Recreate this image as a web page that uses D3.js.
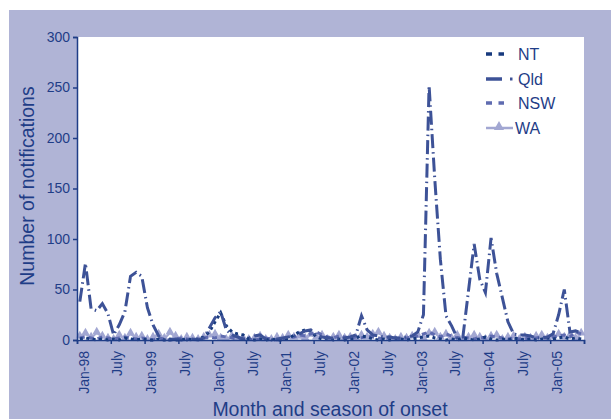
<!DOCTYPE html>
<html>
<head>
<meta charset="utf-8">
<script src="https://cdn.jsdelivr.net/npm/d3@7"></script>
<style>
  body { margin: 0; background: #fff; }
  text { font-family: "Liberation Sans", Arial, sans-serif; }
</style>
</head>
<body>
<script>
// monthly notifications, Jan-98 .. Jun-05 (90 months)
const months = d3.range(90);

const qld = [38, 76, 31, 29, 36, 26, 5, 15, 28, 63, 67, 63, 32, 15, 4, 0, 0, 1, 0, 0,
  1, 0, 2, 12, 22, 28, 10, 5, 3, 1, 2, 4, 5, 1, 0, 1, 2, 3, 4, 6,
  9, 10, 5, 3, 2, 2, 1, 2, 3, 5, 24, 10, 5, 4, 3, 3, 2, 2, 3, 4,
  8, 25, 252, 160, 80, 24, 14, 2, 3, 49, 95, 60, 47, 101, 66, 42, 18, 6, 5, 5,
  4, 2, 2, 3, 6, 25, 50, 8, 9, 7];

const nt = [1, 2, 1, 0, 1, 0, 1, 0, 2, 1, 0, 1, 0, 0, 1, 0, 1, 0, 0, 1,
  0, 1, 3, 8, 18, 27, 14, 8, 6, 5, 1, 0, 1, 0, 1, 0, 0, 1, 5, 8,
  10, 9, 3, 1, 2, 0, 1, 0, 1, 2, 4, 3, 1, 0, 1, 0, 2, 1, 0, 1,
  2, 3, 4, 2, 1, 0, 1, 0, 2, 1, 0, 1, 3, 1, 0, 1, 0, 2, 1, 0,
  1, 0, 1, 2, 1, 2, 3, 1, 2, 1];

const nsw = [2, 3, 2, 1, 3, 2, 1, 2, 3, 2, 1, 2, 1, 0, 2, 1, 0, 1, 2, 1,
  0, 1, 2, 3, 2, 4, 3, 2, 1, 2, 1, 0, 1, 2, 1, 0, 1, 2, 3, 5,
  4, 6, 8, 5, 3, 2, 4, 3, 2, 3, 2, 4, 3, 2, 1, 3, 2, 1, 2, 3,
  4, 6, 8, 5, 3, 6, 4, 2, 3, 2, 1, 3, 2, 4, 3, 2, 1, 2, 1, 2,
  1, 2, 3, 2, 3, 4, 5, 3, 8, 6];

const wa = [3, 6, 2, 7, 3, 1, 0, 4, 1, 6, 2, 3, 0, 2, 5, 1, 7, 3, 0, 2,
  1, 0, 2, 4, 5, 1, 0, 3, 1, 1, 0, 1, 3, 0, 0, 2, 1, 4, 2, 3,
  1, 5, 2, 4, 0, 2, 4, 1, 2, 1, 4, 2, 5, 7, 3, 1, 0, 2, 1, 3,
  4, 1, 6, 7, 2, 5, 1, 4, 0, 2, 4, 2, 0, 3, 4, 0, 2, 3, 0, 2,
  1, 3, 4, 1, 3, 5, 2, 4, 1, 6];

const tickMonths = d3.range(0, 91, 6);
const tickLabels = ["Jan-98", "July", "Jan-99", "July", "Jan-00", "July", "Jan-01", "July",
  "Jan-02", "July", "Jan-03", "July", "Jan-04", "July", "Jan-05", ""];
const yTicks = [0, 50, 100, 150, 200, 250, 300];

const seriesNames = ["NT", "Qld", "NSW", "WA"];
const seriesData = [nt, qld, nsw, wa];

const w = 611, h = 419;
const navy = "#1f3d87";
const colors = { NT: "#173a7e", Qld: "#3d5297", NSW: "#5f6bb0", WA: "#a2a7d2" };
const dashes = { NT: "3,3.5", Qld: "14,4,1.5,4", NSW: "5,4", WA: null };

const svg = d3.select("body").append("svg")
  .attr("width", w)
  .attr("height", h);

svg.append("rect")
  .attr("x", 9).attr("y", 10)
  .attr("width", w - 9).attr("height", h - 10)
  .attr("fill", "#b0b4d6");

const x = d3.scaleLinear().domain([0, 90]).range([77, 584]);
const y = d3.scaleLinear().domain([0, 300]).range([340, 37]);

svg.append("rect")
  .attr("x", x(0)).attr("y", y(300))
  .attr("width", x(90) - x(0)).attr("height", y(0) - y(300))
  .attr("fill", "#fff");

// lines
const line = d3.line()
  .x((d, i) => x(i + 0.5))
  .y(d => y(d));

// draw WA first so it sits at the back
const order = ["WA", "NSW", "NT", "Qld"];
order.forEach(function (name) {
  const data = seriesData[seriesNames.indexOf(name)];
  svg.append("path")
    .datum(data)
    .attr("fill", "none")
    .attr("stroke", colors[name])
    .attr("stroke-width", name === "WA" ? 2 : 3)
    .attr("stroke-dasharray", dashes[name])
    .attr("d", line);
  if (name === "WA") {
    svg.append("g").selectAll("path")
      .data(data)
      .enter()
      .append("path")
      .attr("d", d3.symbol().type(d3.symbolTriangle).size(34))
      .attr("transform", (d, i) => "translate(" + x(i + 0.5) + "," + (y(d) - 1) + ")")
      .attr("fill", colors.WA);
  }
});

// y axis
const yAxis = svg.append("g")
  .attr("transform", "translate(" + x(0) + ",0)")
  .call(d3.axisLeft(y).tickValues(yTicks).tickSize(4).tickPadding(3));
yAxis.select(".domain").attr("stroke", navy).attr("stroke-width", 1.5);
yAxis.selectAll(".tick line").attr("stroke", navy).attr("stroke-width", 1.5);
yAxis.selectAll(".tick text")
  .attr("fill", navy)
  .style("font-size", "14px")
  .style("font-family", "'Liberation Sans', Arial, sans-serif");

// x axis
const xAxis = svg.append("g")
  .attr("transform", "translate(0," + y(0) + ")")
  .call(d3.axisBottom(x).tickValues(tickMonths).tickSize(4).tickFormat(""));
xAxis.select(".domain").attr("stroke", navy).attr("stroke-width", 1.5);
xAxis.selectAll(".tick line").attr("stroke", navy).attr("stroke-width", 1.5);

svg.append("g").selectAll("text")
  .data(tickMonths)
  .enter()
  .append("text")
  .attr("transform", d => "translate(" + (x(d) + 11.5) + ",351)rotate(-90)")
  .attr("text-anchor", "end")
  .attr("fill", navy)
  .style("font-size", "14px")
  .text((d, i) => tickLabels[i]);

// axis titles
svg.append("text")
  .attr("text-anchor", "middle")
  .attr("transform", "translate(34,186)rotate(-90)")
  .attr("fill", navy)
  .style("font-size", "19.5px")
  .text("Number of notifications");

svg.append("text")
  .attr("text-anchor", "middle")
  .attr("x", 330)
  .attr("y", 416)
  .attr("fill", navy)
  .style("font-size", "19.5px")
  .text("Month and season of onset");

// legend
const legend = svg.append("g");
const legY = [54, 79, 103, 128];
seriesNames.forEach(function (name, i) {
  const g = legend.append("g").attr("transform", "translate(0," + legY[i] + ")");
  if (name === "Qld") {
    g.append("line").attr("x1", 486).attr("x2", 502).attr("y1", 0).attr("y2", 0)
      .attr("stroke", colors.Qld).attr("stroke-width", 3.5);
    g.append("line").attr("x1", 510).attr("x2", 512.5).attr("y1", 0).attr("y2", 0)
      .attr("stroke", colors.Qld).attr("stroke-width", 3);
  } else if (name === "WA") {
    g.append("line").attr("x1", 486).attr("x2", 513).attr("y1", 0).attr("y2", 0)
      .attr("stroke", colors.WA).attr("stroke-width", 2.5);
    g.append("path")
      .attr("d", d3.symbol().type(d3.symbolTriangle).size(45))
      .attr("transform", "translate(499,-1)")
      .attr("fill", colors.WA);
  } else {
    g.append("line").attr("x1", 486).attr("x2", 504).attr("y1", 0).attr("y2", 0)
      .attr("stroke", colors[name]).attr("stroke-width", 3.5)
      .attr("stroke-dasharray", "6,6.5");
  }
  g.append("text")
    .attr("x", name === "WA" ? 515 : 518)
    .attr("y", 0)
    .attr("dy", "0.36em")
    .attr("fill", navy)
    .style("font-size", "16px")
    .text(name);
});
</script>
</body>
</html>
